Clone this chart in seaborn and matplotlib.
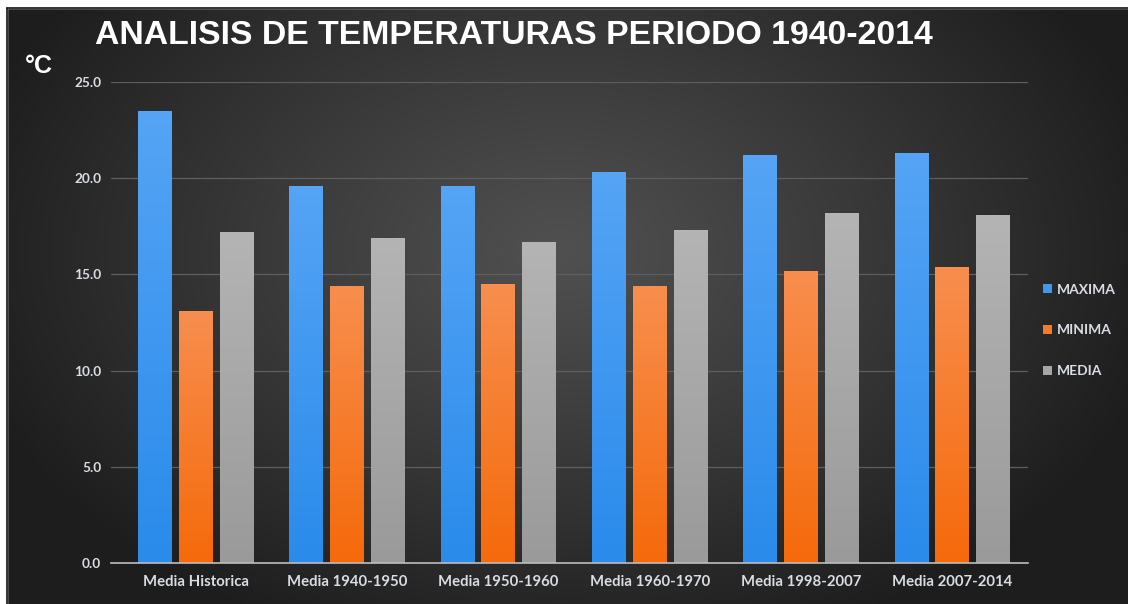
import numpy as np
import pandas as pd
import matplotlib
matplotlib.use("Agg")
import matplotlib.pyplot as plt
import seaborn as sns
from matplotlib.colors import to_rgb
from matplotlib.patches import Rectangle

# ---- data ----
categories = ["Media Historica", "Media 1940-1950", "Media 1950-1960",
              "Media 1960-1970", "Media 1998-2007", "Media 2007-2014"]
maxima = [23.5, 19.6, 19.6, 20.3, 21.2, 21.3]
minima = [13.1, 14.4, 14.5, 14.4, 15.2, 15.4]
media = [17.2, 16.9, 16.7, 17.3, 18.2, 18.1]
series_names = ["MAXIMA", "MINIMA", "MEDIA"]
yticks = [0, 5, 10, 15, 20, 25]

df = pd.DataFrame({
    "cat": categories * 3,
    "serie": [series_names[0]] * 6 + [series_names[1]] * 6 + [series_names[2]] * 6,
    "val": maxima + minima + media,
})

sns.set_theme(style="dark")
plt.rcParams["font.family"] = ["Lato", "DejaVu Sans"]

W, H = 1128, 604
fig = plt.figure(figsize=(W / 100, H / 100), dpi=100)
fig.patch.set_facecolor("white")

# ---- background with radial gradient ----
bg = fig.add_axes([0, 0, 1, 1], zorder=-10)
bg.set_xlim(0, W)
bg.set_ylim(H, 0)
bg.axis("off")
yy, xx = np.mgrid[0:H, 0:W]
cx, cy = 560, 250
d = np.sqrt(((xx - cx) / 620.0) ** 2 + ((yy - cy) / 420.0) ** 2)
t = np.clip(d, 0, 1) ** 1.1
c_in = np.array(to_rgb("#505050"))
c_out = np.array(to_rgb("#1d1d1d"))
img = c_in[None, None, :] * (1 - t[..., None]) + c_out[None, None, :] * t[..., None]
bg.imshow(img, extent=[0, W, H, 0], aspect="auto", interpolation="bilinear")
# white margin + dark frame line
bg.add_patch(Rectangle((0, 0), W, 8, color="white", zorder=3))
bg.add_patch(Rectangle((0, 0), 7, H, color="white", zorder=3))
bg.plot([7, 7], [8, H], color="#111111", lw=1.2, zorder=4)
bg.plot([7, W], [8, 8], color="#111111", lw=1.2, zorder=4)

# ---- main axes ----
ax = fig.add_axes([111 / W, 1 - 563 / H, (1028 - 111) / W, (563 - 82) / H])
ax.set_facecolor("none")
palette = {"MAXIMA": "#3f97ee", "MINIMA": "#f67a27", "MEDIA": "#a6a6a6"}
sns.barplot(data=df, x="cat", y="val", hue="serie", hue_order=series_names,
            order=categories, palette=palette, width=0.81, gap=0.17,
            saturation=1, ax=ax, errorbar=None, zorder=3, linewidth=0,
            edgecolor="none")

grads = {
    "MAXIMA": ("#55a4f5", "#2a8beb"),
    "MINIMA": ("#f88e4e", "#f56a0b"),
    "MEDIA": ("#b4b4b4", "#9a9a9a"),
}
col_to_name = {tuple(np.round(to_rgb(v), 3)): k for k, v in palette.items()}
for p in list(ax.patches):
    key = tuple(np.round(p.get_facecolor()[:3], 3))
    if key not in col_to_name:
        continue
    top, bot = grads[col_to_name[key]]
    x0, w, h = p.get_x(), p.get_width(), p.get_height()
    g = np.linspace(0, 1, 64)[:, None, None]
    arr = np.array(to_rgb(top))[None, None, :] * (1 - g) + np.array(to_rgb(bot))[None, None, :] * g
    im = ax.imshow(arr, extent=[x0, x0 + w, 0, h], aspect="auto", zorder=4,
                   interpolation="bilinear", origin="upper")
    im.set_clip_path(p)

ax.set_xlim(-0.56, 5.5)
ax.set_ylim(0, 25)
ax.set_yticks(yticks)
ax.set_yticklabels([f"{v:.1f}" for v in yticks])
ax.set_xlabel("")
ax.set_ylabel("")
ax.grid(axis="y", color="#5e5e5e", lw=0.9, zorder=0)
ax.grid(axis="x", visible=False)
for s in ["top", "right", "left"]:
    ax.spines[s].set_visible(False)
ax.spines["bottom"].set_color("#bdbdbd")
ax.spines["bottom"].set_linewidth(1.2)
ax.spines["bottom"].set_zorder(5)
ax.tick_params(axis="y", length=0, pad=7, labelcolor="#d8dde3", labelsize=9.8)
ax.tick_params(axis="x", length=0, pad=9, labelcolor="#d8dde3", labelsize=10.7)
for lab in ax.get_xticklabels() + ax.get_yticklabels():
    lab.set_fontweight("bold")

# legend
handles, labels = ax.get_legend_handles_labels()
leg = ax.legend(handles, labels, loc="upper left",
                bbox_to_anchor=(1030 / W, 1 - 271 / H), bbox_transform=fig.transFigure,
                frameon=False, handlelength=0.65, handleheight=0.65, handletextpad=0.4,
                labelspacing=2.08, fontsize=10, labelcolor="#d8dde3")
for t_ in leg.get_texts():
    t_.set_fontweight("bold")

# titles
fig.text(95 / W, 1 - 36 / H, "ANALISIS DE TEMPERATURAS PERIODO 1940-2014",
         family=["Liberation Sans", "DejaVu Sans"], fontweight="bold", fontsize=24.3,
         color="white", ha="left", va="center")
fig.text(25 / W, 1 - 66 / H, "°C", family=["Liberation Sans", "DejaVu Sans"],
         fontweight="bold", fontsize=18, color="white", ha="left", va="center")

fig.savefig("out.png", dpi=100)
